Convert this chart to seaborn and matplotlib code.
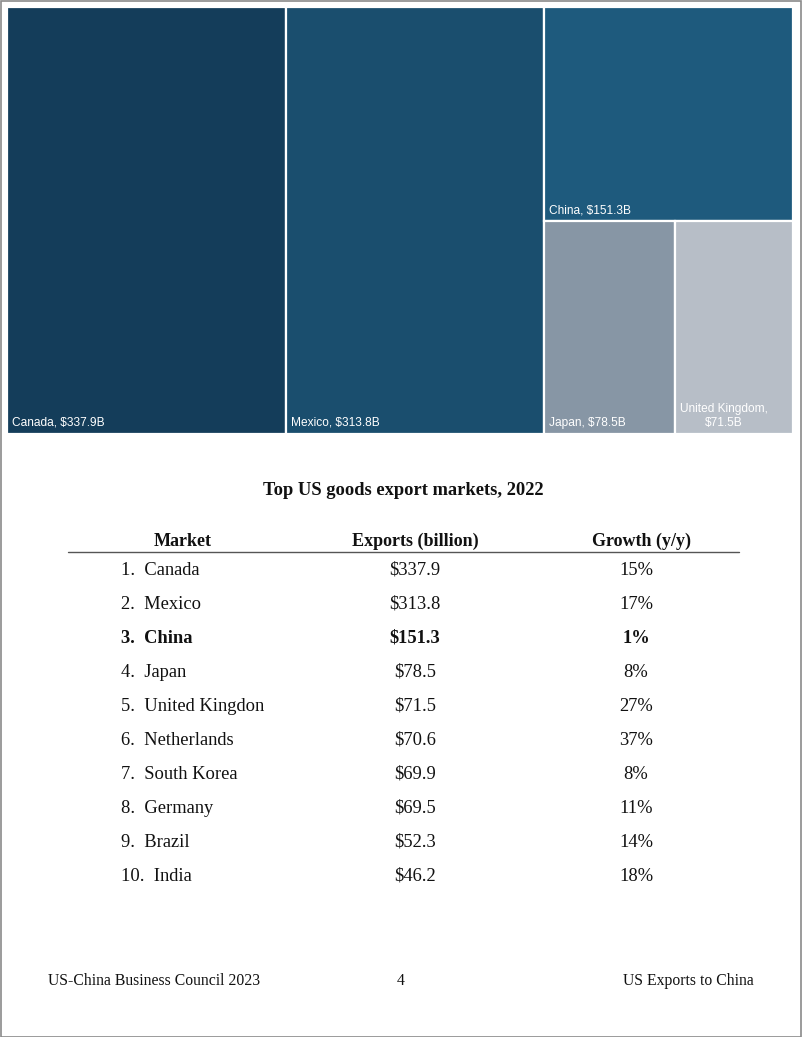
import matplotlib
matplotlib.use("Agg")
import matplotlib.pyplot as plt
import seaborn as sns
from matplotlib.patches import Rectangle
from matplotlib.lines import Line2D

# ---------------- data ----------------
tm_names = ["Canada", "Mexico", "China", "Japan", "United Kingdom"]
tm_values = [337.9, 313.8, 151.3, 78.5, 71.5]
tm_colors = ["#143d5a", "#1a4e6e", "#1e5a7d", "#8796a5", "#b7bec7"]

title = "Top US goods export markets, 2022"
headers = ["Market", "Exports (billion)", "Growth (y/y)"]
ranks = ["1.", "2.", "3.", "4.", "5.", "6.", "7.", "8.", "9.", "10."]
markets = ["Canada", "Mexico", "China", "Japan", "United Kingdon",
           "Netherlands", "South Korea", "Germany", "Brazil", "India"]
exports = ["$337.9", "$313.8", "$151.3", "$78.5", "$71.5",
           "$70.6", "$69.9", "$69.5", "$52.3", "$46.2"]
growth = ["15%", "17%", "1%", "8%", "27%", "37%", "8%", "11%", "14%", "18%"]
highlight = "China"
footer = ["US-China Business Council 2023", "4", "US Exports to China"]

sns.set_theme(style="white")
plt.rcParams["font.family"] = ["Liberation Serif", "DejaVu Serif"]
plt.rcParams["text.color"] = "#111111"

W, H = 802, 1037
fig = plt.figure(figsize=(W / 100, H / 100), dpi=100)
fig.patch.set_facecolor("white")

def fx(x):
    return x / W

def fy(y):
    return 1 - y / H

# page border
fig.add_artist(Rectangle((0.5 / W, 0.5 / H), 1 - 1.5 / W, 1 - 1.5 / H,
                         transform=fig.transFigure, fill=False,
                         edgecolor="#8a8a8a", linewidth=1.2))

# ---------------- treemap ----------------
ax = fig.add_axes([fx(7), fy(434), fx(786), 427 / H])
total = sum(tm_values)
ax.set_xlim(0, total)
ax.set_ylim(0, 1)
ax.axis("off")

rects = []
x0 = 0.0
for v in tm_values[:2]:
    rects.append((x0, 0.0, v, 1.0))
    x0 += v
rest = sum(tm_values[2:])
h_china = tm_values[2] / rest
rects.append((x0, 1 - h_china, rest, h_china))
bottom_total = sum(tm_values[3:])
xx = x0
for v in tm_values[3:]:
    w = v / bottom_total * rest
    rects.append((xx, 0.0, w, 1 - h_china))
    xx += w

for (rx, ry, rw, rh), c, n, v in zip(rects, tm_colors, tm_names, tm_values):
    ax.add_patch(Rectangle((rx, ry), rw, rh, facecolor=c,
                           edgecolor="white", linewidth=1.6))
    label = f"{n}, ${v}B"
    if n == "United Kingdom":
        label = f"{n},\n${v}B"
    ax.annotate(label, xy=(rx, ry), xytext=(5, 5), textcoords="offset pixels",
                ha="left", va="bottom", multialignment="center",
                color="white", fontsize=8.6,
                family=["Liberation Sans", "DejaVu Sans"],
                linespacing=1.2)

# ---------------- table ----------------
fig.text(fx(403), fy(495), title, ha="center", va="baseline",
         fontsize=13.3, fontweight="bold")

hx = [183, 415, 641]
for x, h in zip(hx, headers):
    fig.text(fx(x), fy(546), h, ha="center", va="baseline",
             fontsize=13, fontweight="bold")
fig.add_artist(Line2D([fx(68), fx(739)], [fy(551.5), fy(551.5)],
                      transform=fig.transFigure, color="#555555",
                      linewidth=1.0))

for i, (r, m, e, g) in enumerate(zip(ranks, markets, exports, growth)):
    y = fy(575 + 34 * i)
    wt = "bold" if m == highlight else "normal"
    fig.text(fx(121), y, f"{r}  {m}", ha="left", va="baseline",
             fontsize=13.3, fontweight=wt)
    fig.text(fx(415), y, e, ha="center", va="baseline",
             fontsize=13.3, fontweight=wt)
    fig.text(fx(636), y, g, ha="center", va="baseline",
             fontsize=13.3, fontweight=wt)

# ---------------- footer ----------------
fig.text(fx(48), fy(985), footer[0], ha="left", va="baseline", fontsize=11.3)
fig.text(fx(401), fy(985), footer[1], ha="center", va="baseline", fontsize=11.3)
fig.text(fx(754), fy(985), footer[2], ha="right", va="baseline", fontsize=11.3)

fig.savefig("out.png", dpi=100, facecolor="white")
